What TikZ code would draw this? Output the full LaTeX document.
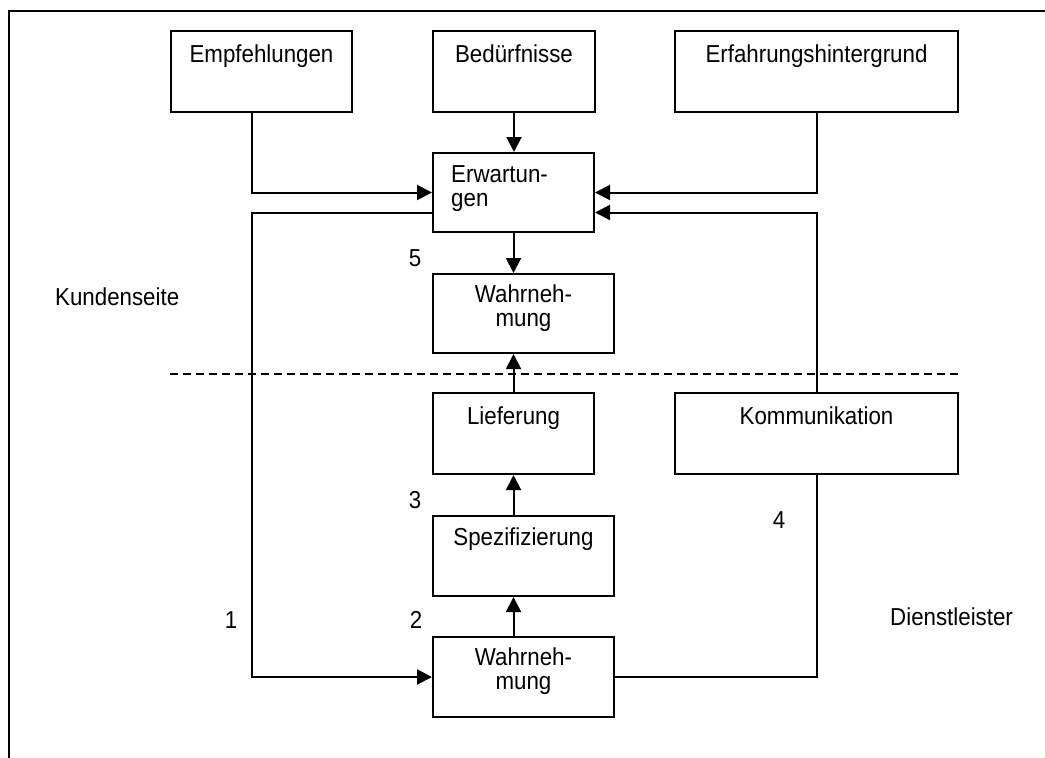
\documentclass[tikz,border=0pt]{standalone}
\usepackage{fontspec}
\setmainfont{Liberation Sans}
\usetikzlibrary{arrows.meta}
% text set slightly taller than wide
\newcommand{\vtxt}[1]{\scalebox{1}[1.1]{#1}}
\begin{document}
\begin{tikzpicture}[x=1pt,y=-1pt,
  box/.style={draw, line width=2pt, inner sep=0pt},
  txt/.style={font=\fontsize{22.3}{24}\selectfont, inner sep=0pt, anchor=base},
  conn/.style={line width=2pt},
  arr/.style={line width=2pt, -{Triangle[length=15pt,width=15pt]}},
  sep/.style={line width=1.3pt, dash pattern=on 8pt off 5pt}]
\useasboundingbox (0,0) rectangle (1045,758);
\clip (0,0) rectangle (1045,758);
% outer frame (open to the right and bottom)
\draw[line width=2pt] (9,780) -- (9,11) -- (1070,11);

% boxes
\node[box, minimum width=181pt, minimum height=81pt] (emp) at (261.5,71.5) {};
\node[box, minimum width=162pt, minimum height=81pt] (bed) at (514,71.5) {};
\node[box, minimum width=283pt, minimum height=81pt] (erf) at (816.5,71.5) {};
\node[box, minimum width=161pt, minimum height=79pt] (erw) at (513.5,192.5) {};
\node[box, minimum width=181pt, minimum height=79pt] (wa1) at (523.5,313.5) {};
\node[box, minimum width=161pt, minimum height=81pt] (lie) at (513.5,433.5) {};
\node[box, minimum width=283pt, minimum height=81pt] (kom) at (816.5,433.5) {};
\node[box, minimum width=181pt, minimum height=80pt] (spe) at (523.5,556) {};
\node[box, minimum width=181pt, minimum height=80pt] (wa2) at (523.5,677) {};

% box texts
\node[txt] (empT) at ([yshift=-32pt]emp.north) {\vtxt{Empfehlungen}};
\node[txt] (bedT) at ([yshift=-32pt]bed.north) {\vtxt{Bedürfnisse}};
\node[txt] (erfT) at ([yshift=-32pt]erf.north) {\vtxt{Erfahrungshintergrund}};
\node[txt, anchor=base west] (erwT1) at ([xshift=19pt,yshift=-30pt]erw.north west) {\vtxt{Erwartun-}};
\node[txt, anchor=base west] (erwT2) at ([xshift=19pt,yshift=-54pt]erw.north west) {\vtxt{gen}};
\node[txt] (wa1T1) at ([yshift=-29pt]wa1.north) {\vtxt{Wahrneh-}};
\node[txt] (wa1T2) at ([yshift=-53pt]wa1.north) {\vtxt{mung}};
\node[txt] (lieT) at ([yshift=-32pt]lie.north) {\vtxt{Lieferung}};
\node[txt] (komT) at ([yshift=-32pt]kom.north) {\vtxt{Kommunikation}};
\node[txt] (speT) at ([yshift=-30pt]spe.north) {\vtxt{Spezifizierung}};
\node[txt] (wa2T1) at ([yshift=-29pt]wa2.north) {\vtxt{Wahrneh-}};
\node[txt] (wa2T2) at ([yshift=-53pt]wa2.north) {\vtxt{mung}};

% side labels and gap numbers
\node[txt, anchor=base west] (kunde) at (55,305) {\vtxt{Kundenseite}};
\node[txt, anchor=base west] (dienst) at (890,625) {\vtxt{Dienstleister}};
\node[txt] (n5) at (415,266) {\vtxt{5}};
\node[txt] (n3) at (415,508) {\vtxt{3}};
\node[txt] (n2) at (416,628) {\vtxt{2}};
\node[txt] (n1) at (231,628) {\vtxt{1}};
\node[txt] (n4) at (779,528) {\vtxt{4}};

% separator between customer and provider
\draw[sep] (emp.west |- 0,374) -- (erf.east |- 0,374);

% connectors
\coordinate (lx) at (252,0);
\draw[arr] (bed.south) -- (bed.south |- erw.north);
\draw[arr] (emp.south -| lx) |- (erw.west);
\draw[arr] (erf.south) |- (erw.east);
\draw[arr] (erw.south) -- (erw.south |- wa1.north);
\draw[arr] (lie.north) -- (lie.north |- wa1.south);
\draw[arr] (lie.south |- spe.north) -- (lie.south);
\draw[arr] (lie.south |- wa2.north) -- (lie.south |- spe.south);
\draw[arr] ([yshift=-20pt]erw.west) -| (lx |- wa2.west) -- (wa2.west);
\draw[conn] (wa2.east) -| (kom.south);
\draw[arr] (kom.north) |- ([yshift=-20pt]erw.east);
\end{tikzpicture}
\end{document}
